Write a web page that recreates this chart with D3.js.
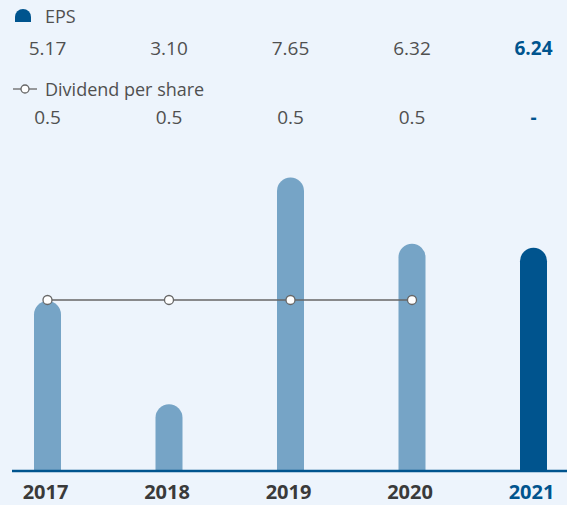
<!DOCTYPE html>
<html>
<head>
<meta charset="utf-8">
<script src="https://cdn.jsdelivr.net/npm/d3@7"></script>
<style>
  html, body { margin: 0; padding: 0; background: #edf4fc; }
  svg { display: block; font-family: "Open Sans", sans-serif; }
</style>
</head>
<body>
<div id="chart"></div>
<script>
var years = ['2017', '2018', '2019', '2020', '2021'];
var eps = [5.17, 3.10, 7.65, 6.32, 6.24];
var epsLabels = ['5.17', '3.10', '7.65', '6.32', '6.24'];
var dividend = [0.5, 0.5, 0.5, 0.5, null];
var dividendLabels = ['0.5', '0.5', '0.5', '0.5', '-'];

var w = 567, h = 505;
var lightBlue = '#76a4c6';
var darkBlue = '#00548e';
var textGrey = '#505050';
var lineGrey = '#666';

var svg = d3.select('#chart')
  .append('svg')
  .attr('width', w)
  .attr('height', h);

var x = d3.scalePoint()
  .domain(years)
  .range([47.5, 533.5]);
var bw = 27;

// bars are not drawn from zero in the original, base sits around 1.76
var y = d3.scaleLinear().domain([1.76, 7.8]).range([471, 170]);
var y2 = d3.scaleLinear().domain([0, 0.88]).range([471, 170]);

var last = years.length - 1;

// legend
var r = 8;
svg.append('path')
  .attr('d', 'M15,22 L15,' + (9 + r) + ' A' + r + ',' + r + ' 0 0 1 31,' + (9 + r) + ' L31,22 Z')
  .attr('fill', darkBlue);
svg.append('text').attr('x', 45).attr('y', 23)
  .attr('font-size', '18px').attr('fill', textGrey).text('EPS');

svg.append('line').attr('x1', 13).attr('x2', 37).attr('y1', 89).attr('y2', 89)
  .attr('stroke', lineGrey).attr('stroke-width', 1.3);
svg.append('circle').attr('cx', 25).attr('cy', 89).attr('r', 4)
  .attr('fill', '#fff').attr('stroke', lineGrey).attr('stroke-width', 1.3);
svg.append('text').attr('x', 45).attr('y', 96)
  .attr('font-size', '18px').attr('fill', textGrey).text('Dividend per share');

// value rows
svg.selectAll('.eps-val')
  .data(epsLabels)
  .enter()
  .append('text')
  .attr('class', 'eps-val')
  .attr('x', function(d, i) { return x(years[i]); })
  .attr('y', 55)
  .attr('text-anchor', 'middle')
  .attr('font-size', '19px')
  .attr('font-weight', function(d, i) { return i === last ? 700 : 400; })
  .attr('fill', function(d, i) { return i === last ? darkBlue : textGrey; })
  .text(function(d) { return d; });

svg.selectAll('.div-val')
  .data(dividendLabels)
  .enter()
  .append('text')
  .attr('class', 'div-val')
  .attr('x', function(d, i) { return x(years[i]); })
  .attr('y', 124)
  .attr('text-anchor', 'middle')
  .attr('font-size', '19px')
  .attr('font-weight', function(d, i) { return i === last ? 700 : 400; })
  .attr('fill', function(d, i) { return i === last ? darkBlue : textGrey; })
  .text(function(d) { return d; });

// bars with rounded tops
svg.selectAll('.bar')
  .data(eps)
  .enter()
  .append('path')
  .attr('class', 'bar')
  .attr('d', function(d, i) {
    var x0 = x(years[i]) - bw / 2, x1 = x0 + bw, top = y(d), base = y(1.76), rr = bw / 2;
    return 'M' + x0 + ',' + base + ' L' + x0 + ',' + (top + rr) +
      ' A' + rr + ',' + rr + ' 0 0 1 ' + x1 + ',' + (top + rr) +
      ' L' + x1 + ',' + base + ' Z';
  })
  .attr('fill', function(d, i) { return i === last ? darkBlue : lightBlue; });

// axis line
svg.append('line')
  .attr('x1', 12).attr('x2', w)
  .attr('y1', 471).attr('y2', 471)
  .attr('stroke', darkBlue).attr('stroke-width', 2.4);

// year labels
svg.selectAll('.year')
  .data(years)
  .enter()
  .append('text')
  .attr('class', 'year')
  .attr('x', function(d) { return x(d) - 2; })
  .attr('y', 499)
  .attr('text-anchor', 'middle')
  .attr('font-size', '20px')
  .attr('font-weight', 700)
  .attr('fill', function(d, i) { return i === last ? darkBlue : '#3a3a3a'; })
  .text(function(d) { return d; });

// dividend line
var divPts = dividend.map(function(d, i) { return { year: years[i], v: d }; })
  .filter(function(d) { return d.v !== null; });

svg.append('path')
  .datum(divPts)
  .attr('fill', 'none')
  .attr('stroke', lineGrey)
  .attr('stroke-width', 1.3)
  .attr('d', d3.line()
    .x(function(d) { return x(d.year); })
    .y(function(d) { return y2(d.v); }));

svg.selectAll('.div-pt')
  .data(divPts)
  .enter()
  .append('circle')
  .attr('class', 'div-pt')
  .attr('cx', function(d) { return x(d.year); })
  .attr('cy', function(d) { return y2(d.v); })
  .attr('r', 4.5)
  .attr('fill', '#fff')
  .attr('stroke', lineGrey)
  .attr('stroke-width', 1.3);
</script>
</body>
</html>
